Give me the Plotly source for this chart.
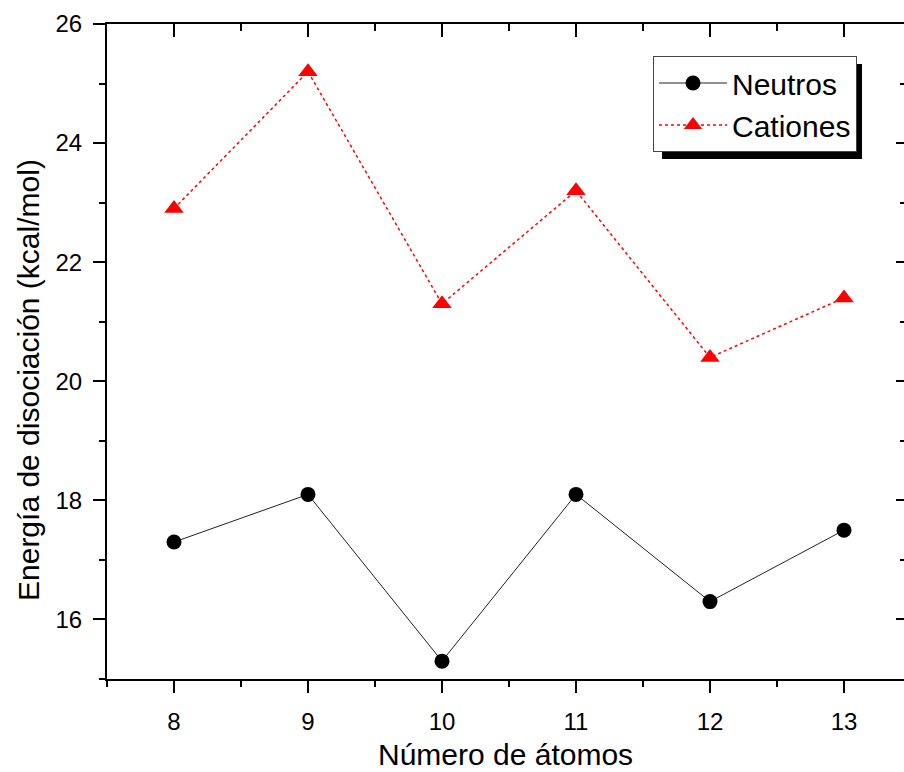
import plotly.graph_objects as go

# ---- data ----
atoms = [8, 9, 10, 11, 12, 13]
neutros = [17.3, 18.1, 15.3, 18.1, 16.3, 17.5]
cationes = [22.9, 25.2, 21.3, 23.2, 20.4, 21.4]
x_ticks = [8, 9, 10, 11, 12, 13]
y_ticks = [16, 18, 20, 22, 24, 26]
x_title = "Número de átomos"
y_title = "Energía de disociación (kcal/mol)"
series_names = ["Neutros", "Cationes"]

W, H = 904, 772
ML, MR, MT, MB = 107, 0, 24, 93
PW, PH = W - ML - MR, H - MT - MB
XMIN = 7.5
PX_PER_UNIT = 134
XMAX = XMIN + PW / PX_PER_UNIT
YMIN, YMAX = 15, 26

FONT = "Liberation Sans, Arial, sans-serif"

fig = go.Figure()
fig.add_trace(go.Scatter(
    x=atoms, y=neutros, name=series_names[0], mode="lines+markers",
    line=dict(color="#222222", width=1),
    marker=dict(symbol="circle", size=15, color="black"),
))
fig.add_trace(go.Scatter(
    x=atoms, y=cationes, name=series_names[1], mode="lines+markers",
    line=dict(color="red", width=1.5, dash="dot"),
    marker=dict(symbol="triangle-up", size=17, color="red"),
))
# empty trace to create the mirrored (top/right) axes
fig.add_trace(go.Scatter(x=[], y=[], xaxis="x2", yaxis="y2",
                         showlegend=False, hoverinfo="skip"))

def px2paper_x(px):
    return (px - ML) / PW

def px2paper_y(py):
    return (H - MB - py) / PH

axis_common = dict(showgrid=False, zeroline=False, linecolor="black",
                   linewidth=2, tickcolor="black", tickwidth=2)

# legend box (pixels) and its drop shadow
LEG_L, LEG_T = 653, 56
LEG_W, LEG_H = 200, 95
SHADOW_DX, SHADOW_DY = 9, 8

fig.update_layout(
    width=W, height=H,
    margin=dict(l=ML, r=MR, t=MT, b=MB, pad=0),
    paper_bgcolor="white", plot_bgcolor="white",
    font=dict(family=FONT, color="black"),
    showlegend=True,
    xaxis=dict(range=[XMIN, XMAX], tickvals=x_ticks, ticks="outside",
               ticklen=12, showline=True, mirror=False,
               tickfont=dict(size=24), ticklabelstandoff=8,
               minor=dict(dtick=0.5, tick0=0, ticks="outside", ticklen=6,
                          tickcolor="black", tickwidth=2),
               **axis_common),
    yaxis=dict(range=[YMIN, YMAX], tickvals=y_ticks, ticks="outside",
               ticklen=12, showline=True, mirror=False,
               tickfont=dict(size=24), ticklabelstandoff=6,
               minor=dict(dtick=1, tick0=0, ticks="outside", ticklen=6,
                          tickcolor="black", tickwidth=2),
               **axis_common),
    xaxis2=dict(range=[XMIN, XMAX], overlaying="x", side="top", anchor="y2",
                tickvals=x_ticks, ticks="inside", ticklen=13,
                showticklabels=False, showline=True,
                minor=dict(dtick=0.5, tick0=0, ticks="inside", ticklen=7,
                           tickcolor="black", tickwidth=2),
                **axis_common),
    yaxis2=dict(range=[YMIN, YMAX], overlaying="y", side="right", anchor="x2",
                tickvals=y_ticks, ticks="inside", ticklen=8,
                showticklabels=False, showline=False,
                minor=dict(dtick=1, tick0=0, ticks="inside", ticklen=4,
                           tickcolor="black", tickwidth=2),
                **axis_common),
    legend=dict(
        x=px2paper_x(LEG_L), y=px2paper_y(LEG_T), xanchor="left", yanchor="top",
        bgcolor="white", bordercolor="#444444", borderwidth=1,
        font=dict(size=30, family=FONT), itemwidth=68,
        tracegroupgap=0,
    ),
    annotations=[
        dict(text=x_title, xref="paper", yref="paper",
             x=0.5, y=px2paper_y(754), xanchor="center", yanchor="middle",
             showarrow=False, font=dict(size=30, family=FONT)),
        dict(text=y_title, xref="paper", yref="paper", textangle=-90,
             x=px2paper_x(28), y=px2paper_y(380), xanchor="center",
             yanchor="middle", showarrow=False,
             font=dict(size=30, family=FONT)),
    ],
    shapes=[
        dict(type="rect", xref="paper", yref="paper",
             x0=px2paper_x(LEG_L + SHADOW_DX),
             x1=px2paper_x(LEG_L + LEG_W + SHADOW_DX),
             y0=px2paper_y(LEG_T + LEG_H + SHADOW_DY),
             y1=px2paper_y(LEG_T + SHADOW_DY),
             fillcolor="black", line=dict(width=0), layer="above"),
    ],
)

fig.write_html("out.html")
